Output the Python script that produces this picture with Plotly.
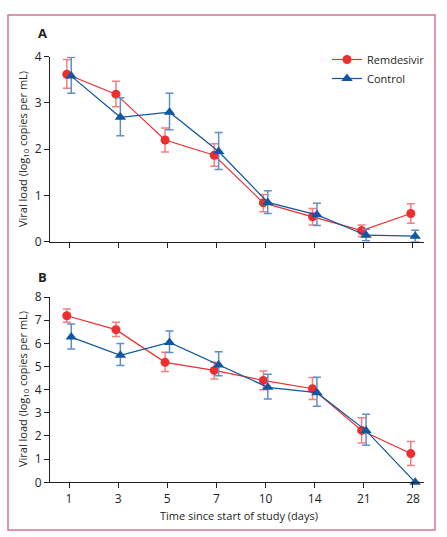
import plotly.graph_objects as go

days = ["1", "3", "5", "7", "10", "14", "21", "28"]

# Panel A
a_rem = [3.62, 3.19, 2.20, 1.87, 0.84, 0.54, 0.24, 0.61]
a_rem_hi = [3.94, 3.47, 2.46, 2.12, 1.02, 0.72, 0.36, 0.82]
a_rem_lo = [3.32, 2.92, 1.94, 1.63, 0.65, 0.36, 0.11, 0.40]
a_ctl = [3.58, 2.69, 2.80, 1.95, 0.85, 0.58, 0.14, 0.12]
a_ctl_hi = [3.99, 3.11, 3.21, 2.36, 1.10, 0.83, 0.27, 0.25]
a_ctl_lo = [3.21, 2.29, 2.42, 1.56, 0.61, 0.35, 0.02, 0.00]

# Panel B
b_rem = [7.19, 6.59, 5.18, 4.83, 4.40, 4.04, 2.24, 1.24]
b_rem_hi = [7.48, 6.91, 5.61, 5.18, 4.81, 4.52, 2.79, 1.76]
b_rem_lo = [6.91, 6.29, 4.78, 4.46, 4.00, 3.58, 1.70, 0.73]
b_ctl = [6.27, 5.48, 6.04, 5.06, 4.10, 3.87, 2.23, 0.00]
b_ctl_hi = [6.83, 5.99, 6.53, 5.64, 4.66, 4.53, 2.94, 0.00]
b_ctl_lo = [5.76, 5.04, 5.60, 4.60, 3.60, 3.28, 1.60, 0.00]

RED = "#EE2E2F"
RED_ERR = "#F47F80"
BLUE = "#0F57A0"
BLUE_ERR = "#5D8FC9"
TXT = "#231F20"
FONT = "Open Sans"

idx = list(range(len(days)))
x_rem = [i - 0.045 for i in idx]
x_ctl = [i + 0.045 for i in idx]

def err(vals, hi, lo):
    return [h - v for v, h in zip(vals, hi)], [v - l for v, l in zip(vals, lo)]

fig = go.Figure()

def add(x, y, hi, lo, color, ecolor, symbol, size, name, xa, ya, show):
    up, dn = err(y, hi, lo)
    fig.add_trace(go.Scatter(
        x=x, y=y, mode="lines+markers", name=name, showlegend=show,
        line=dict(color=color, width=1.2),
        marker=dict(color=color, symbol=symbol, size=size),
        error_y=dict(type="data", symmetric=False, array=up, arrayminus=dn,
                     color=ecolor, thickness=1.5, width=4),
        xaxis=xa, yaxis=ya, cliponaxis=False,
    ))

add(x_rem, a_rem, a_rem_hi, a_rem_lo, RED, RED_ERR, "circle", 9, "Remdesivir", "x", "y", True)
add(x_ctl, a_ctl, a_ctl_hi, a_ctl_lo, BLUE, BLUE_ERR, "triangle-up", 10, "Control", "x", "y", True)
add(x_rem, b_rem, b_rem_hi, b_rem_lo, RED, RED_ERR, "circle", 9, "Remdesivir", "x2", "y2", False)
add(x_ctl, b_ctl, b_ctl_hi, b_ctl_lo, BLUE, BLUE_ERR, "triangle-up", 10, "Control", "x2", "y2", False)

W, H = 447, 537
xdom = [50 / W, 424 / W]
xr = [-0.387, 7.224]

axis_common = dict(showgrid=False, zeroline=False, showline=True, linecolor=TXT,
                   linewidth=1.2, ticks="outside", ticklen=5, tickwidth=1.2,
                   tickcolor=TXT, automargin=False,
                   tickfont=dict(size=12, color=TXT, family=FONT))

def px_x(v):
    return v / W

def px_y(v):
    return (H - v) / H

ytitle = "Viral load (log<sub>10</sub> copies per mL)"

fig.update_layout(
    width=W, height=H,
    margin=dict(l=0, r=0, t=0, b=0, pad=0),
    paper_bgcolor="white", plot_bgcolor="white",
    font=dict(family=FONT, color=TXT),
    xaxis=dict(domain=xdom, range=xr, tickmode="array", tickvals=idx,
               showticklabels=False, anchor="y", **axis_common),
    yaxis=dict(domain=[px_y(241.7), px_y(56.7)], range=[0, 4],
               tickvals=[0, 1, 2, 3, 4], anchor="x", **axis_common),
    xaxis2=dict(domain=xdom, range=xr, tickmode="array", tickvals=idx,
                ticktext=days, anchor="y2", **axis_common),
    yaxis2=dict(domain=[px_y(482.3), px_y(297)], range=[0, 8],
                tickvals=list(range(9)), anchor="x2", **axis_common),
    legend=dict(x=px_x(430), y=px_y(45), xanchor="right", yanchor="top",
                bgcolor="rgba(0,0,0,0)", font=dict(size=11, color=TXT),
                itemwidth=30, tracegroupgap=0),
    shapes=[dict(type="rect", xref="paper", yref="paper",
                 x0=px_x(8), x1=px_x(435), y0=px_y(530), y1=px_y(15),
                 line=dict(color="#D4758F", width=1.5))],
    annotations=[
        dict(text="<b>A</b>", x=px_x(36), y=px_y(33), xref="paper", yref="paper",
             showarrow=False, xanchor="left", yanchor="middle",
             font=dict(size=13, color=TXT)),
        dict(text="<b>B</b>", x=px_x(36), y=px_y(277), xref="paper", yref="paper",
             showarrow=False, xanchor="left", yanchor="middle",
             font=dict(size=13, color=TXT)),
        dict(text=ytitle, x=px_x(23), y=px_y(149), xref="paper", yref="paper",
             showarrow=False, textangle=-90, xanchor="center", yanchor="middle",
             font=dict(size=11, color=TXT)),
        dict(text=ytitle, x=px_x(23), y=px_y(389), xref="paper", yref="paper",
             showarrow=False, textangle=-90, xanchor="center", yanchor="middle",
             font=dict(size=11, color=TXT)),
        dict(text="Time since start of study (days)", x=px_x(239), y=px_y(515),
             xref="paper", yref="paper", showarrow=False,
             xanchor="center", yanchor="middle", font=dict(size=11, color=TXT)),
    ],
)

fig.write_html("out.html", config={"displayModeBar": False},
               post_script="document.body.style.margin='0';")
